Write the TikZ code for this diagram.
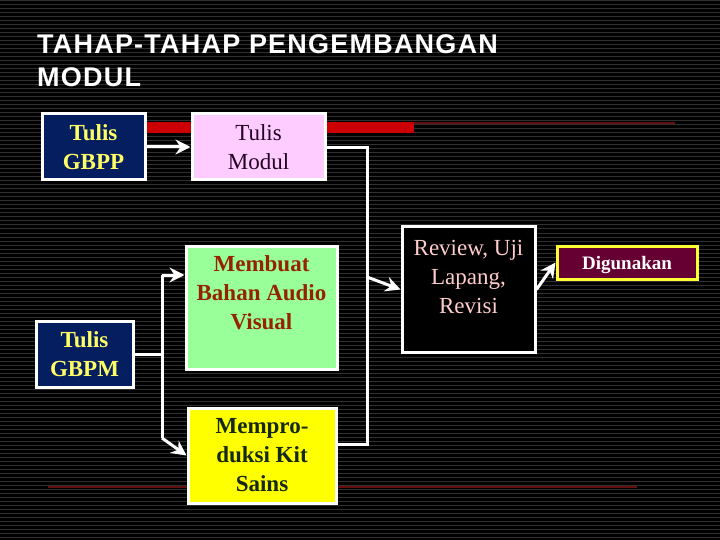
\documentclass[tikz,border=0pt]{standalone}
\usepackage{fontspec}
\setmainfont{Liberation Serif}
\newfontfamily\titlefont[LetterSpace=4.5]{Liberation Sans}
\usetikzlibrary{arrows.meta}
\definecolor{navy}{RGB}{5,30,95}
\definecolor{ytext}{RGB}{255,255,102}
\definecolor{pinkbox}{RGB}{255,204,255}
\definecolor{greenbox}{RGB}{153,255,153}
\definecolor{yellowbox}{RGB}{255,255,0}
\definecolor{membtext}{RGB}{150,35,0}
\definecolor{memptext}{RGB}{20,40,20}
\definecolor{modtext}{RGB}{35,5,35}
\definecolor{revtext}{RGB}{255,204,204}
\definecolor{digfill}{RGB}{102,0,51}
\definecolor{digborder}{RGB}{255,255,51}
\definecolor{stripe}{RGB}{48,48,48}
\definecolor{redbar}{RGB}{204,0,0}
\definecolor{redthin}{RGB}{100,15,15}
\tikzset{
  box/.style={draw=white, line width=3pt, inner sep=0pt, align=center,
    font=\fontsize{23}{29}\selectfont},
  boxtext/.style={inner sep=0pt, align=center, font=\fontsize{23}{29}\selectfont},
  conn/.style={draw=white, line width=3pt},
  arr/.style={conn, -{Stealth[length=15pt,width=15pt,inset=5pt]}},
}
\begin{document}
\begin{tikzpicture}[x=1pt,y=-1pt]
\useasboundingbox (0,0) rectangle (720,540);
\fill[black] (0,0) rectangle (720,540);
\foreach \k in {1,5,...,540} { \draw[stripe, line width=1pt] (0,\k) -- (720,\k); }
% title
\node[anchor=base west, inner sep=0pt, text=white, font=\titlefont\bfseries\fontsize{27}{32}\selectfont] (t1) at (37,54) {TAHAP-TAHAP PENGEMBANGAN};
\node[anchor=base west, inner sep=0pt, text=white, font=\titlefont\bfseries\fontsize{27}{32}\selectfont] (t2) at (37,87) {MODUL};
% decorative red lines
\fill[redbar] (145,122) rectangle (414,133);
\draw[redthin, line width=2pt] (414,123) -- (675,123);
\draw[redthin, line width=2pt] (48,487) -- (637,487);
% boxes
\node[box, fill=navy, text=ytext, font=\fontsize{23}{29}\selectfont\bfseries, minimum width=103pt, minimum height=66pt] (gbpp) at (93.5,147) {Tulis\\GBPP};
\node[box, fill=pinkbox, text=modtext, minimum width=133pt, minimum height=66pt] (modul) at (258.5,147) {Tulis\\Modul};
\node[box, fill=greenbox, minimum width=151pt, minimum height=123pt] (membuat) at (261.5,307.5) {};
\node[boxtext, text=membtext, font=\fontsize{23}{29}\selectfont\bfseries] (membuatT) at (261.5,293) {Membuat\\Bahan Audio\\Visual};
\node[box, fill=navy, text=ytext, font=\fontsize{23}{29}\selectfont\bfseries, minimum width=97pt, minimum height=66pt] (gbpm) at (84.5,354) {Tulis\\GBPM};
\node[box, fill=yellowbox, text=memptext, font=\fontsize{23}{29}\selectfont\bfseries, minimum width=148pt, minimum height=95pt] (mempro) at (262,455.5) {Mempro-\\duksi Kit\\Sains};
\node[box, fill=black, minimum width=133pt, minimum height=125pt] (review) at (468.5,289.5) {};
\node[boxtext, text=revtext] (reviewT) at (468.5,277) {Review, Uji\\Lapang,\\Revisi};
\node[box, draw=digborder, fill=digfill, text=white, font=\fontsize{19}{23}\selectfont\bfseries, text height=13pt, text depth=0pt, minimum width=140pt, minimum height=33pt] (dig) at (627,262.5) {Digunakan};
% connector points
\coordinate (r1) at (367,148);
\coordinate (r2) at (367,444);
\coordinate (r3) at (367,277);
\coordinate (l1) at (162,354);
\coordinate (l2) at (162,275);
\coordinate (l3) at (162,438);
% connectors
\draw[arr] (gbpp.east) -- (modul.west);
\draw[conn, line join=miter] (modul.east |- r1) -- (r1) -- (r2) -- (r2 -| mempro.east);
\draw[arr] (r3) -- (review.west);
\draw[conn] (gbpm.east |- l1) -- (l1);
\draw[conn, line join=miter] (l2) -- (l3);
\draw[arr] (l2) -- (l2 -| membuat.west);
\draw[arr] (l3) -- (mempro.west);
\draw[arr] (review.east) -- (dig.west);
\end{tikzpicture}
\end{document}
